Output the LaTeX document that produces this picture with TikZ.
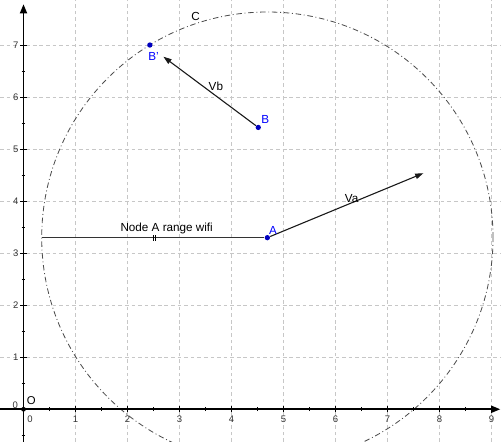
\documentclass[tikz,border=0pt]{standalone}
\usepackage{fontspec}
\setmainfont{Liberation Sans}
\usetikzlibrary{arrows.meta}
\begin{document}
\begin{tikzpicture}[x=1cm,y=1cm,
  gridline/.style={draw=black!22, dash pattern=on 2pt off 1.6pt, line width=0.45pt},
  axis/.style={line width=1pt, -{Triangle[length=5pt,width=3.8pt]}},
  vec/.style={line width=0.6pt, draw=black!90, -{Triangle[length=4.5pt,width=3pt]}},
  pt/.style={circle, fill=blue!75!black, inner sep=0pt, minimum size=2.9pt},
  lbl/.style={font=\fontsize{6.4}{7}\selectfont, inner sep=0pt},
  bl/.style={lbl, text=blue},
  num/.style={font=\fontsize{5.2}{6}\selectfont, text=black!80, inner sep=0pt},
  circ/.style={draw=black!70, line width=0.45pt, dash pattern=on 3pt off 1.5pt on 0.5pt off 1.5pt},
  tickmaj/.style={line width=0.5pt},
  tickmin/.style={line width=0.4pt}
]
\useasboundingbox (-0.452,-0.629) rectangle (9.183,7.871);
\coordinate (cA) at (4.69,3.30);
\coordinate (cB) at (4.515,5.42);
\coordinate (cBp) at (2.43,7.005);
\coordinate (vaE) at (7.69,4.54);
\coordinate (vbE) at (2.69,6.78);
\coordinate (segL) at (0.35,3.30);
\coordinate (xl) at (-0.452,0);
\coordinate (xr) at (9.17,0);
\coordinate (yb) at (0,-0.629);
\coordinate (yt) at (0,7.79);
\begin{scope}
  \clip (-0.452,-0.629) rectangle (9.183,7.871);
  \foreach \i in {1,...,9} \draw[gridline] (\i,-0.629) -- (\i,7.871);
  \foreach \j in {1,...,7} \draw[gridline] (-0.452,\j) -- (9.183,\j);
  \draw[circ] (cA) circle (4.34);
\end{scope}
% axes
\draw[axis] (xl) -- (xr);
\draw[axis] (yb) -- (yt);
\foreach \i in {1,...,9} {
  \draw[tickmaj] (\i,-0.06) -- (\i,0.06);
  \draw[tickmin] (\i-0.5,-0.035) -- (\i-0.5,0.035);
  \node[num] (xn\i) at (\i,-0.19) {\i};
}
\foreach \j in {1,...,7} {
  \draw[tickmaj] (-0.06,\j) -- (0.06,\j);
  \draw[tickmin] (-0.035,\j-0.5) -- (0.035,\j-0.5);
  \node[num] (yn\j) at (-0.15,\j) {\j};
}
\draw[tickmin] (-0.035,-0.5) -- (0.035,-0.5);
\node[num] (xn0) at (0.125,-0.19) {0};
\node[num] (yn0) at (-0.16,0.08) {0};
\node[circle, fill=black, inner sep=0pt, minimum size=2.6pt] (O) at (0,0) {};
\node[lbl, font=\fontsize{6.2}{7}\selectfont] (Olbl) at (0.15,0.165) {O};
% points
\node[pt] (A) at (cA) {};
\node[pt] (B) at (cB) {};
\node[pt] (Bp) at (cBp) {};
% segment
\draw[line width=0.55pt, draw=black!80] (A) -- (segL);
\draw[line width=0.5pt] (2.50,3.24) -- (2.50,3.36) (2.545,3.24) -- (2.545,3.36);
% vectors
\draw[vec] (A) -- (vaE);
\draw[vec] (B) -- (vbE);
% labels
\node[lbl] (segLbl) at (2.754,3.48) {Node A range wifi};
\node[bl] (Albl) at (4.80,3.44) {A};
\node[bl] (Blbl) at (4.65,5.58) {B};
\node[bl] (Bplbl) at (2.50,6.79) {B'};
\node[lbl] (Vblbl) at (3.70,6.22) {Vb};
\node[lbl] (Valbl) at (6.31,4.05) {Va};
\node[lbl] (Clbl) at (3.31,7.55) {C};
\end{tikzpicture}
\end{document}
